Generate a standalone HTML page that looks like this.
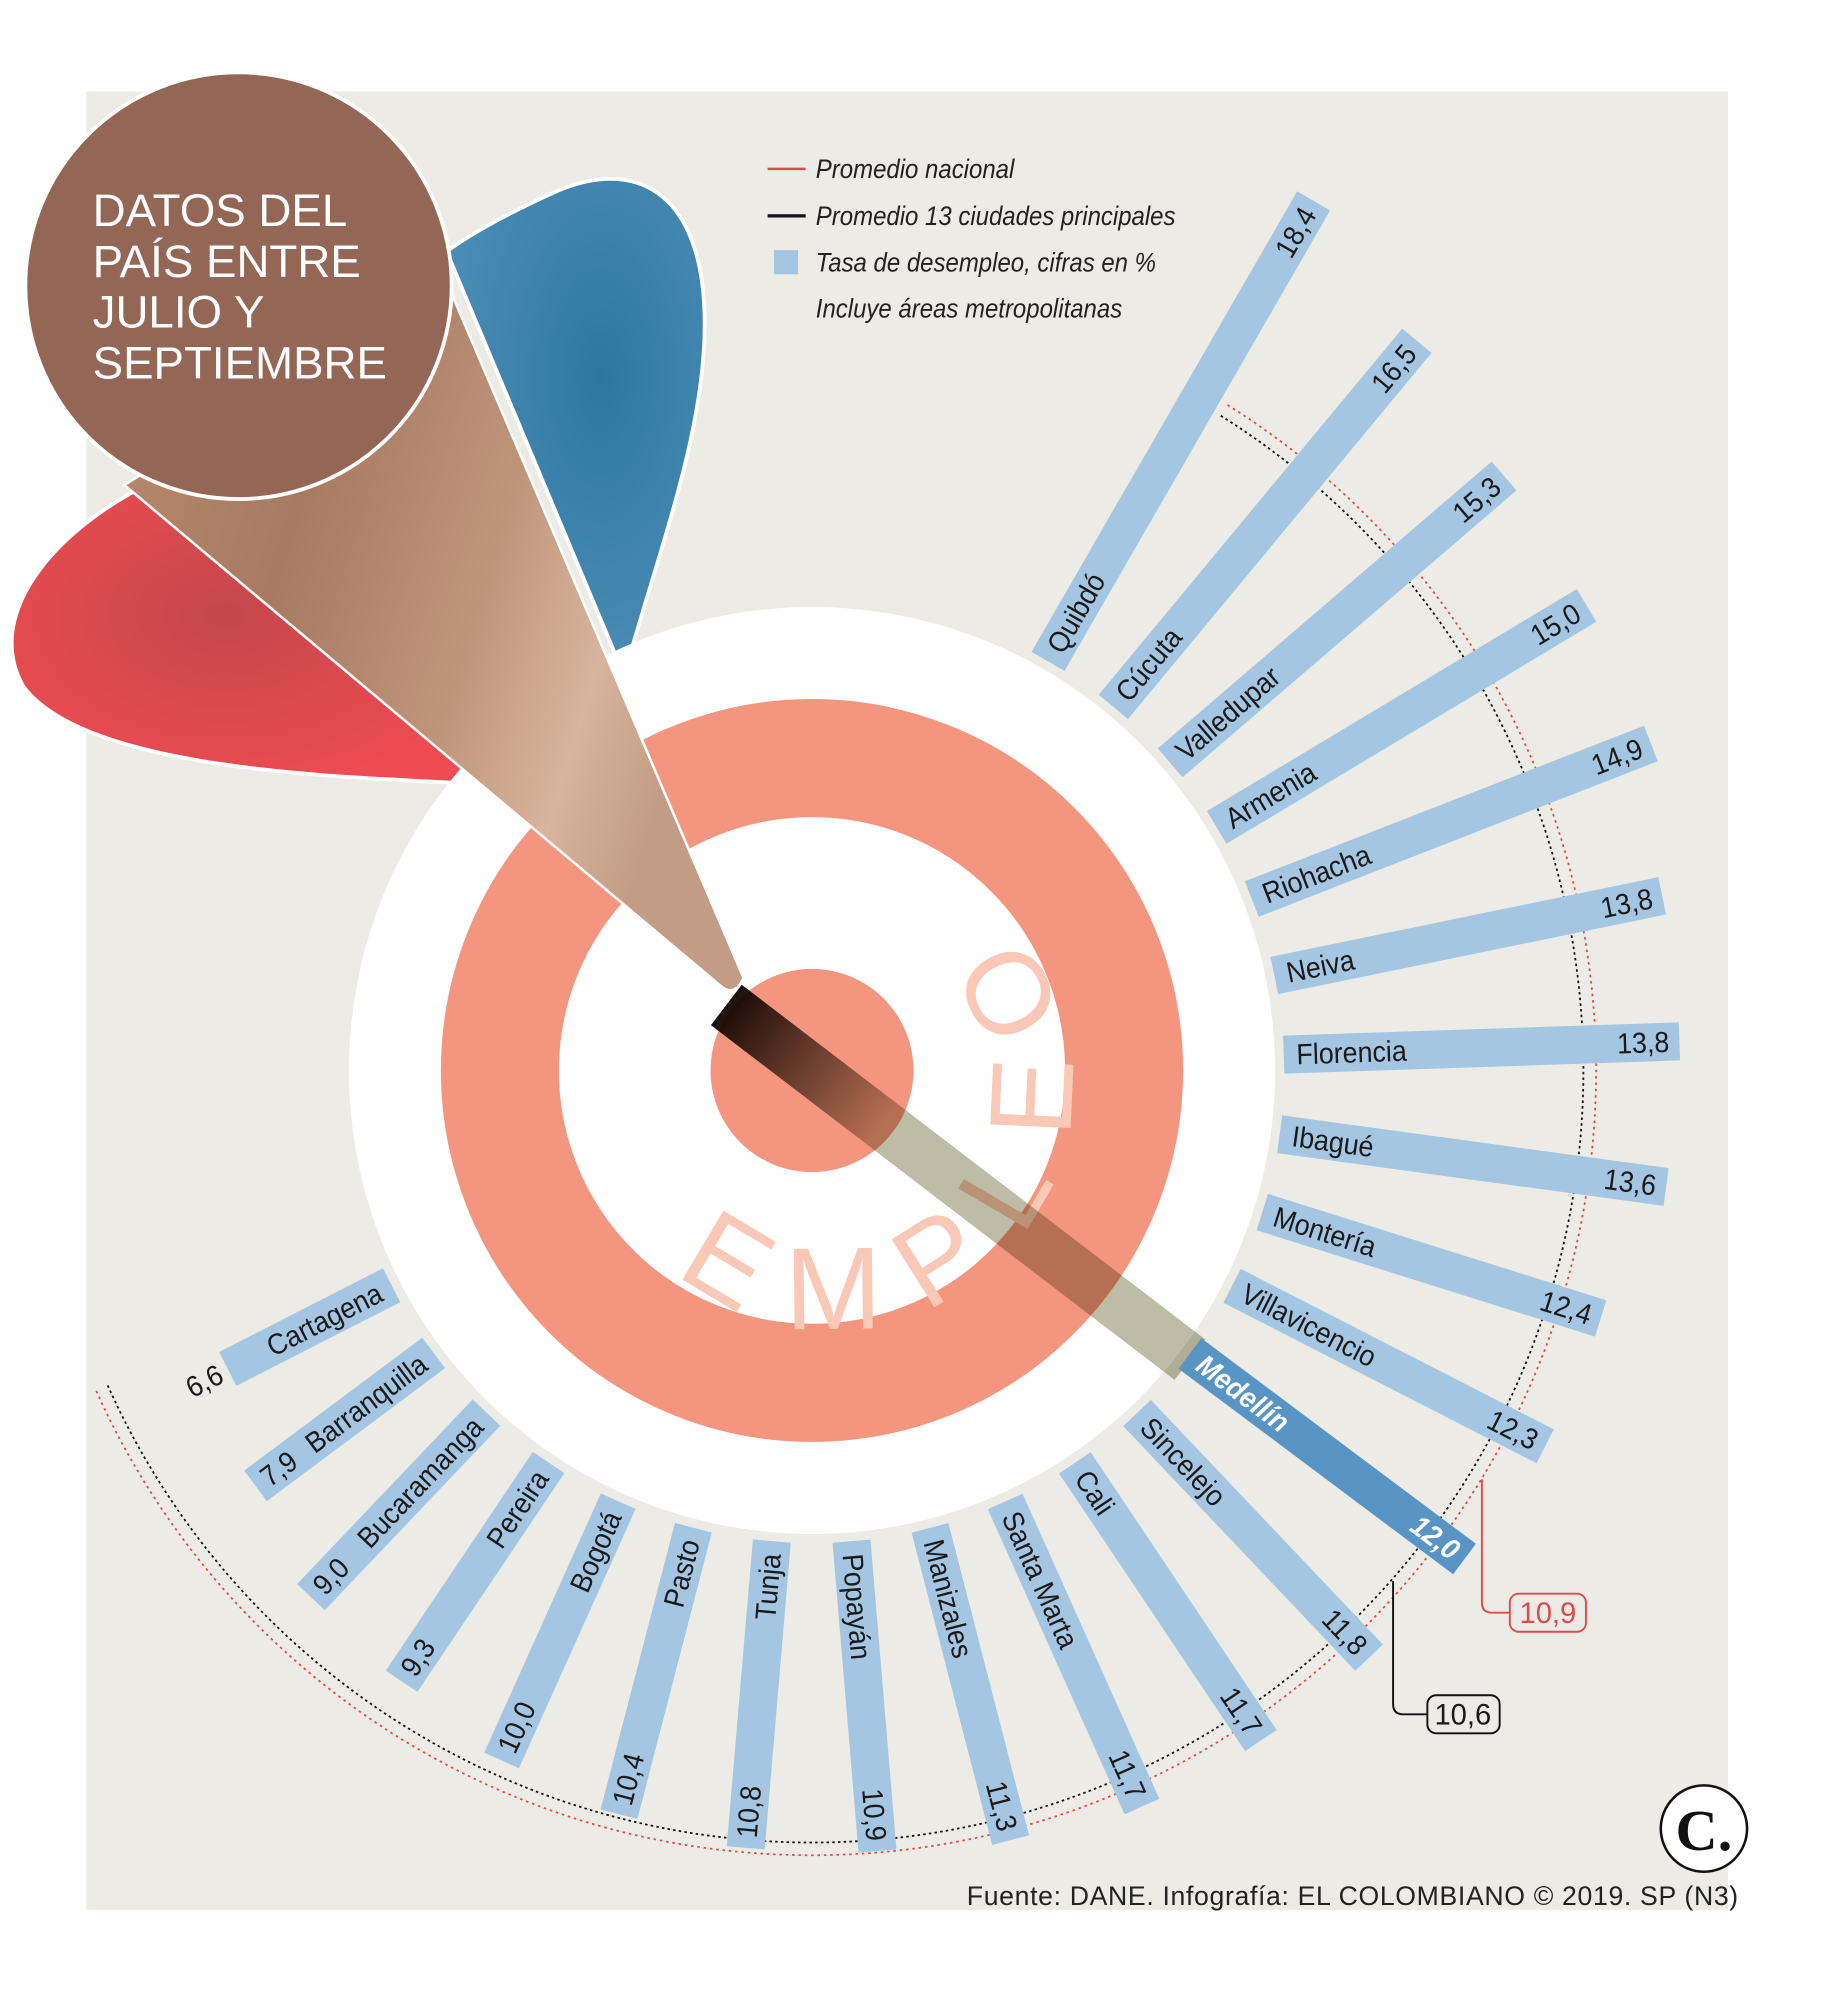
<!DOCTYPE html>
<html><head><meta charset="utf-8">
<style>
html,body{margin:0;padding:0;background:#fff;}
svg{display:block;}
.t{font-family:"Liberation Sans Narrow","Liberation Sans",sans-serif;font-size:23px;fill:#1a1a1a;}
.lg{font-family:"Liberation Sans Narrow","Liberation Sans",sans-serif;font-style:italic;font-size:21px;fill:#222;}
</style></head>
<body>
<svg id="s" width="1827" height="2000" viewBox="0 0 1440 1575" preserveAspectRatio="none" xmlns="http://www.w3.org/2000/svg">
<defs>
<linearGradient id="cone" x1="0" y1="0" x2="1" y2="0.35">
<stop offset="0" stop-color="#b98a6e"/><stop offset="0.35" stop-color="#a77a62"/><stop offset="0.65" stop-color="#bf957a"/><stop offset="0.85" stop-color="#d8b49c"/><stop offset="1" stop-color="#c29c84"/></linearGradient>
<radialGradient id="red" cx="0.45" cy="0.45" r="0.6"><stop offset="0" stop-color="#c4474a"/><stop offset="1" stop-color="#ee4c52"/></radialGradient>
<radialGradient id="blue" cx="0.6" cy="0.4" r="0.6"><stop offset="0" stop-color="#2c78a2"/><stop offset="1" stop-color="#4a8cb5"/></radialGradient>
<linearGradient id="band" gradientUnits="userSpaceOnUse" x1="-85" y1="0" x2="70" y2="0">
<stop offset="0" stop-color="#1c110d"/><stop offset="1" stop-color="#bebca6"/></linearGradient>
<path id="arc" d="M 532.7 1001.8 A 190 190 0 1 0 774.4 708.6"/>
</defs>
<rect width="1440" height="1575" fill="#fff"/>
<rect x="68" y="72" width="1294" height="1432" fill="#ecebe6"/>
<path d="M 385 618 C 300 612 70 612 18 540 C -15 480 50 410 130 375 Z" fill="url(#red)" stroke="#fff" stroke-width="3"/>
<path d="M 492 532 C 520 430 560 330 555 240 C 550 150 500 125 440 150 C 400 168 370 185 352 198 Z" fill="url(#blue)" stroke="#fff" stroke-width="3"/>
<circle cx="640" cy="843" r="365" fill="#fff"/>
<circle cx="640" cy="843" r="246" fill="none" stroke="#f4967f" stroke-width="93"/>
<circle cx="640" cy="843" r="80" fill="#f4967f"/>
<text style="font-family:'Liberation Sans',sans-serif;font-size:92px;fill:#fac8b6;"><textPath href="#arc" textLength="560" lengthAdjust="spacing">EMPLEO</textPath></text>
<g id="arcs" fill="none"></g>
<path d="M 98 382 L 352 222 L 586 770 Q 580 784 570 778 Z" fill="url(#cone)" stroke="#fff" stroke-width="2"/>
<circle cx="188" cy="225" r="168" fill="#946655" stroke="#fff" stroke-width="3"/>
<g style="font-family:'Liberation Sans',sans-serif;font-size:36px;fill:#fff;">
<text x="73" y="178">DATOS DEL</text><text x="73" y="218">PAÍS ENTRE</text><text x="73" y="258">JULIO Y</text><text x="73" y="298">SEPTIEMBRE</text></g>
<g id="bars"></g>
<line x1="605" y1="133" x2="635" y2="133" stroke="#e04a4a" stroke-width="2"/>
<line x1="605" y1="170" x2="635" y2="170" stroke="#111" stroke-width="2.5"/>
<rect x="610" y="197" width="19" height="19" fill="#a5c6e2"/>
<g transform="translate(643 0) scale(0.9 1)">
<text class="lg" x="0" y="140">Promedio nacional</text>
<text class="lg" x="0" y="177">Promedio 13 ciudades principales</text>
<text class="lg" x="0" y="214">Tasa de desempleo, cifras en %</text>
<text class="lg" x="0" y="250">Incluye áreas metropolitanas</text>
</g>
<path d="M 1168 1165 V 1262 Q 1168 1270 1176 1270 H 1190" fill="none" stroke="#e04a4a" stroke-width="1.5"/>
<rect x="1190" y="1255" width="60" height="30" rx="7" fill="#ecebe6" stroke="#e04a4a" stroke-width="1.5"/>
<text class="t" x="1220" y="1278" text-anchor="middle" style="fill:#e04a4a">10,9</text>
<path d="M 1098 1245 V 1342 Q 1098 1350 1106 1350 H 1125" fill="none" stroke="#111" stroke-width="1.5"/>
<rect x="1125" y="1335" width="57" height="30" rx="7" fill="#ecebe6" stroke="#111" stroke-width="1.5"/>
<text class="t" x="1153" y="1358" text-anchor="middle">10,6</text>
<circle cx="1343" cy="1440" r="34" fill="#fff" stroke="#111" stroke-width="2"/>
<text x="1343" y="1457" text-anchor="middle" style="font-family:'Liberation Serif',serif;font-weight:bold;font-size:46px;fill:#111">C.</text>
<text x="762" y="1500" textLength="608" style="font-family:'Liberation Sans',sans-serif;font-size:21px;fill:#222">Fuente: DANE. Infografía: EL COLOMBIANO © 2019. SP (N3)</text>
</svg>
<script>
var NS="http://www.w3.org/2000/svg",cx=640,cy=843,SX=0.92;
function el(t,a,p){var e=document.createElementNS(NS,t);for(var k in a)e.setAttribute(k,a[k]);p.appendChild(e);return e;}
var arcs=document.getElementById("arcs");
function arc(r,c,dash){var a0=-58*Math.PI/180,a1=156*Math.PI/180;
el("path",{d:"M "+(cx+r*Math.cos(a0))+" "+(cy+r*Math.sin(a0))+" A "+r+" "+r+" 0 1 1 "+(cx+r*Math.cos(a1))+" "+(cy+r*Math.sin(a1)),stroke:c,"stroke-width":1.4,"stroke-dasharray":dash},arcs);}
arc(618,"#e04a4a","2 3");arc(608,"#111","2 2.5");
var d=[["Quibdó","18,4"],["Cúcuta","16,5"],["Valledupar","15,3"],["Armenia","15,0"],["Riohacha","14,9"],["Neiva","13,8"],["Florencia","13,8"],["Ibagué","13,6"],["Montería","12,4"],["Villavicencio","12,3"],["Medellín","12,0"],["Sincelejo","11,8"],["Cali","11,7"],["Santa Marta","11,7"],["Manizales","11,3"],["Popayán","10,9"],["Tunja","10,8"],["Pasto","10,4"],["Bogotá","10,0"],["Pereira","9,3"],["Bucaramanga","9,0"],["Barranquilla","7,9"],["Cartagena","6,6"]];
var g=document.getElementById("bars");
var bg=el("g",{transform:"translate("+cx+","+cy+") rotate(37.4)"},g);
el("rect",{x:-85,y:-20,width:460,height:40,fill:"url(#band)",style:"mix-blend-mode:multiply"},bg);
function txt(p,x,anchor,s,st){var gs=el("g",{transform:"translate("+x+",8) scale("+SX+",1)"},p);
 var t=el("text",{class:"t",x:0,y:0,"text-anchor":anchor,style:st||""},gs);t.textContent=s;}
for(var i=0;i<d.length;i++){
 var ang=-60+i*9.68,v=parseFloat(d[i][1].replace(",",".")),r0=372,r1=517+(v-6.6)*23.2;
 var med=d[i][0]=="Medellín";
 var gg=el("g",{transform:"translate("+cx+","+cy+") rotate("+ang+")"},g);
 el("rect",{x:r0,y:-15,width:r1-r0,height:30,fill:med?"#5894c4":"#a5c6e2"},gg);
 var st=med?"fill:#fff;font-weight:bold;font-style:italic":"";
 if(ang<90){
  txt(gg,r0+10,"start",d[i][0],st);
  txt(gg,r1-8,"end",d[i][1],st);
 }else{
  var g2=el("g",{transform:"rotate(180)"},gg);
  txt(g2,-r0-10,"end",d[i][0]);
  if(d[i][0]=="Cartagena") txt(g2,-r1-6,"end",d[i][1]);
  else txt(g2,-r1+8,"start",d[i][1]);
 }
}
</script>
</body></html>
